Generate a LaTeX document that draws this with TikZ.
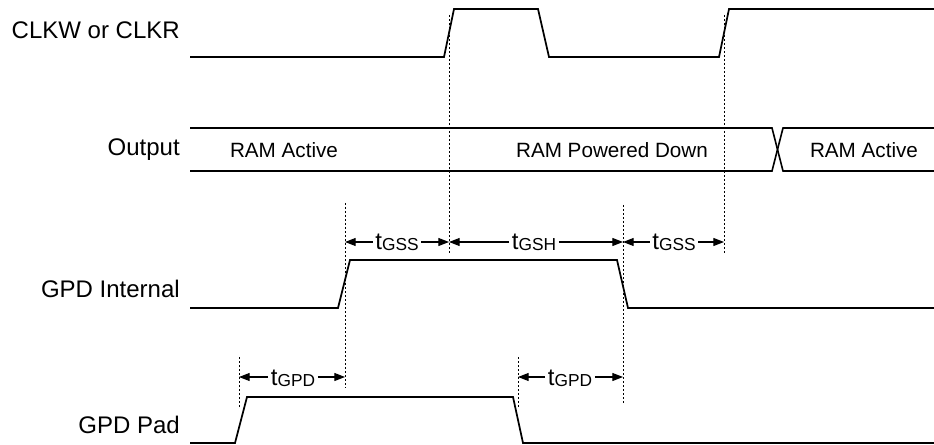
\documentclass[tikz,border=0pt]{standalone}
\usepackage{fontspec}
\setmainfont{Liberation Sans}
\usetikzlibrary{arrows.meta}
\begin{document}
\begin{tikzpicture}[x=0.75pt,y=-0.75pt,
  sig/.style={line width=1.3pt, line join=miter},
  bus/.style={line width=1.2pt},
  guide/.style={line width=0.7pt, dash pattern=on 1.5pt off 1.5pt},
  dimarrow/.style={line width=0.8pt, -{Triangle[length=8pt,width=6pt]}},
  siglabel/.style={anchor=base east, inner sep=0pt, font=\fontsize{18}{20}\selectfont},
  buslabel/.style={inner sep=0pt, font=\fontsize{15.5}{18}\selectfont},
  tlabel/.style={anchor=base, inner xsep=1.8pt, inner ysep=0pt, font=\fontsize{18}{20}\selectfont}]
\useasboundingbox (0,0) rectangle (934,445);
\newcommand{\tsub}[1]{t\raisebox{-0.75pt}{\fontsize{13}{15}\selectfont #1}}

% signal names
\node[siglabel] (nclk) at (180,39) {CLKW or CLKR};
\node[siglabel] (nout) at (180,156) {Output};
\node[siglabel] (nint) at (180,297) {GPD Internal};
\node[siglabel] (npad) at (180,433) {GPD Pad};

% CLKW or CLKR
\draw[sig] (190,57) -- (444,57) -- (454,9) -- (538,9) -- (549,57) -- (719,57) -- (729,9) -- (934,9);

% Output bus
\draw[bus] (190,128) -- (772,128) -- (783,171) -- (934,171);
\draw[bus] (190,171) -- (772,171) -- (783,128) -- (934,128);
\node[buslabel] (ram1) at (284,150) {RAM Active};
\node[buslabel] (ramd) at (612,150) {RAM Powered Down};
\node[buslabel] (ram2) at (864,150) {RAM Active};

% GPD Internal
\draw[sig] (190,308) -- (338,308) -- (350,260) -- (617,260) -- (628,308) -- (934,308);

% GPD Pad
\draw[sig] (190,443) -- (235,443) -- (247,397) -- (513,397) -- (523,443) -- (934,443);

% guide lines
\draw[guide] (449,15) -- (449,253);
\draw[guide] (724,15) -- (724,253);
\draw[guide] (345,203) -- (345,388);
\draw[guide] (623,205) -- (623,403);
\draw[guide] (239,357) -- (239,407);
\draw[guide] (518,357) -- (518,407);

% dimension end points
\coordinate (a1) at (345,242);
\coordinate (a2) at (449,242);
\coordinate (a3) at (623,242);
\coordinate (a4) at (724,242);
\coordinate (b1) at (239,377);
\coordinate (b2) at (345,377);
\coordinate (b3) at (518,377);
\coordinate (b4) at (623,377);

% timing labels
\node[tlabel] (gss1) at (397,249.5) {\tsub{GSS}};
\node[tlabel] (gsh)  at (534,249.5) {\tsub{GSH}};
\node[tlabel] (gss2) at (674,249.5) {\tsub{GSS}};
\node[tlabel] (gpd1) at (293,385) {\tsub{GPD}};
\node[tlabel] (gpd2) at (570,385) {\tsub{GPD}};

\draw[dimarrow] (gss1.west |- a1) -- (a1);
\draw[dimarrow] (gss1.east |- a2) -- (a2);
\draw[dimarrow] (gsh.west |- a2) -- (a2);
\draw[dimarrow] (gsh.east |- a3) -- (a3);
\draw[dimarrow] (gss2.west |- a3) -- (a3);
\draw[dimarrow] (gss2.east |- a4) -- (a4);
\draw[dimarrow] (gpd1.west |- b1) -- (b1);
\draw[dimarrow] (gpd1.east |- b2) -- (b2);
\draw[dimarrow] (gpd2.west |- b3) -- (b3);
\draw[dimarrow] (gpd2.east |- b4) -- (b4);
\end{tikzpicture}
\end{document}
